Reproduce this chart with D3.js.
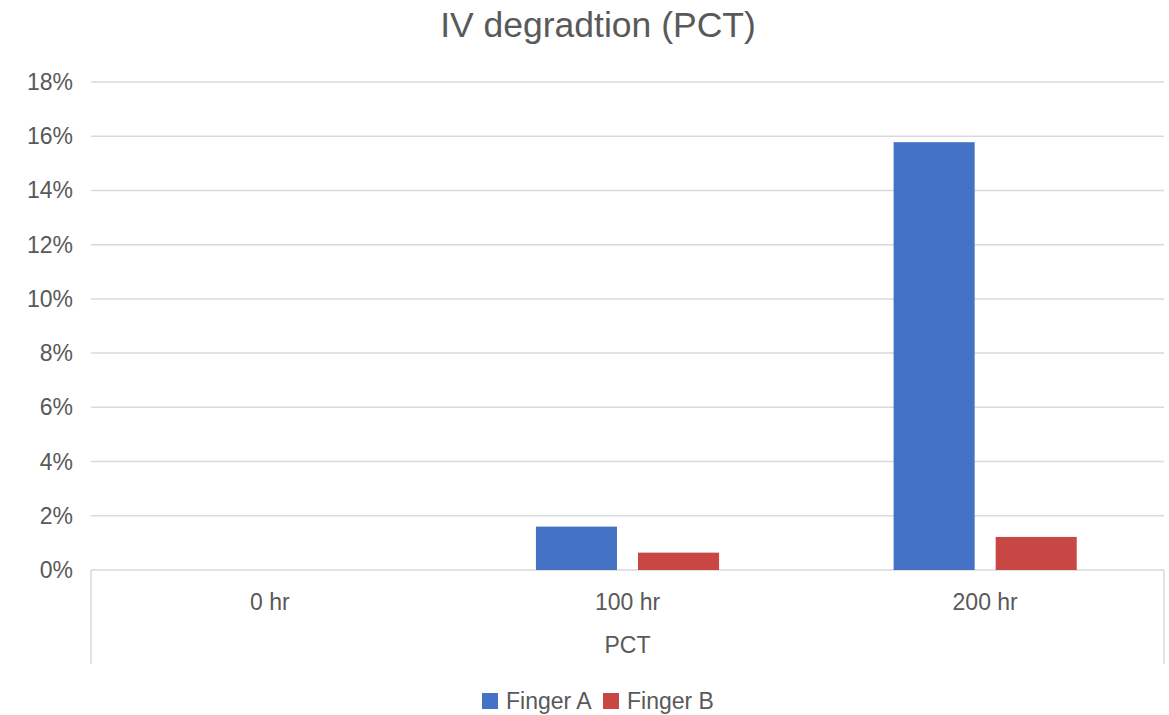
<!DOCTYPE html>
<html>
<head>
<meta charset="utf-8">
<title>IV degradtion (PCT)</title>
<style>
  body { margin: 0; background: #fff; }
  text { font-family: "Liberation Sans", Arial, Helvetica, sans-serif; fill: #595959; }
</style>
</head>
<body>
<script src="https://d3js.org/d3.v7.min.js"></script>
<script>
// chart data
var categories = ["0 hr", "100 hr", "200 hr"];
var seriesNames = ["Finger A", "Finger B"];
var fingerA = [0, 0.016, 0.1578];
var fingerB = [0, 0.0064, 0.0122];
var yTicks = [0, 0.02, 0.04, 0.06, 0.08, 0.10, 0.12, 0.14, 0.16, 0.18];
var colors = ["#4472C4", "#C84644"];

var width = 1169, height = 715;
var plotL = 91, plotR = 1164, plotT = 82, plotB = 570;
var labelSize = "23px";

var svg = d3.select("body").append("svg")
    .attr("width", width)
    .attr("height", height);

var y = d3.scaleLinear().domain([0, 0.18]).range([plotB, plotT]);
var x0 = d3.scaleBand().domain(categories).range([plotL, plotR]).padding(0);
var groupW = x0.bandwidth() * 0.512;
var x1 = d3.scaleBand().domain(seriesNames).range([0, groupW]).paddingInner(0.206);
var fmt = d3.format(".0%");

// title
svg.append("text")
    .attr("x", 598).attr("y", 37)
    .attr("text-anchor", "middle")
    .style("font-size", "35.5px")
    .text("IV degradtion (PCT)");

// gridlines
svg.selectAll(".grid")
    .data(yTicks)
    .enter().append("line")
    .attr("x1", plotL).attr("x2", plotR)
    .attr("y1", function(d){ return y(d); })
    .attr("y2", function(d){ return y(d); })
    .style("stroke", "#D9D9D9")
    .style("stroke-width", 1.5);

// y labels
svg.selectAll(".ylab")
    .data(yTicks)
    .enter().append("text")
    .attr("x", 73)
    .attr("y", function(d){ return y(d) + 8; })
    .attr("text-anchor", "end")
    .style("font-size", labelSize)
    .text(function(d){ return fmt(d); });

// outer category box sides
[plotL, plotR].forEach(function(xx){
    svg.append("line")
        .attr("x1", xx).attr("x2", xx)
        .attr("y1", plotB).attr("y2", 664)
        .style("stroke", "#D9D9D9")
        .style("stroke-width", 1.5);
});

// bars
var rows = categories.map(function(c, i){
    return { cat: c, vals: [fingerA[i], fingerB[i]] };
});

var groups = svg.selectAll(".grp")
    .data(rows)
    .enter().append("g")
    .attr("transform", function(d){
        return "translate(" + (x0(d.cat) + (x0.bandwidth() - groupW) / 2) + ",0)";
    });

groups.selectAll("rect")
    .data(function(d){ return d.vals.map(function(v, j){ return { name: seriesNames[j], v: v, j: j }; }); })
    .enter().append("rect")
    .attr("x", function(d){ return x1(d.name); })
    .attr("width", x1.bandwidth())
    .attr("y", function(d){ return y(d.v); })
    .attr("height", function(d){ return y(0) - y(d.v); })
    .style("fill", function(d){ return colors[d.j]; });

// category labels
svg.selectAll(".xlab")
    .data(categories)
    .enter().append("text")
    .attr("x", function(d){ return x0(d) + x0.bandwidth() / 2; })
    .attr("y", 610)
    .attr("text-anchor", "middle")
    .style("font-size", labelSize)
    .text(function(d){ return d; });

svg.append("text")
    .attr("x", (plotL + plotR) / 2).attr("y", 653)
    .attr("text-anchor", "middle")
    .style("font-size", labelSize)
    .text("PCT");

// legend
var legend = svg.append("g");
var lx = [482, 603];
seriesNames.forEach(function(n, i){
    legend.append("rect")
        .attr("x", lx[i]).attr("y", 693)
        .attr("width", 16).attr("height", 16)
        .style("fill", colors[i]);
    legend.append("text")
        .attr("x", lx[i] + 24).attr("y", 709)
        .style("font-size", labelSize)
        .text(n);
});
</script>
</body>
</html>
